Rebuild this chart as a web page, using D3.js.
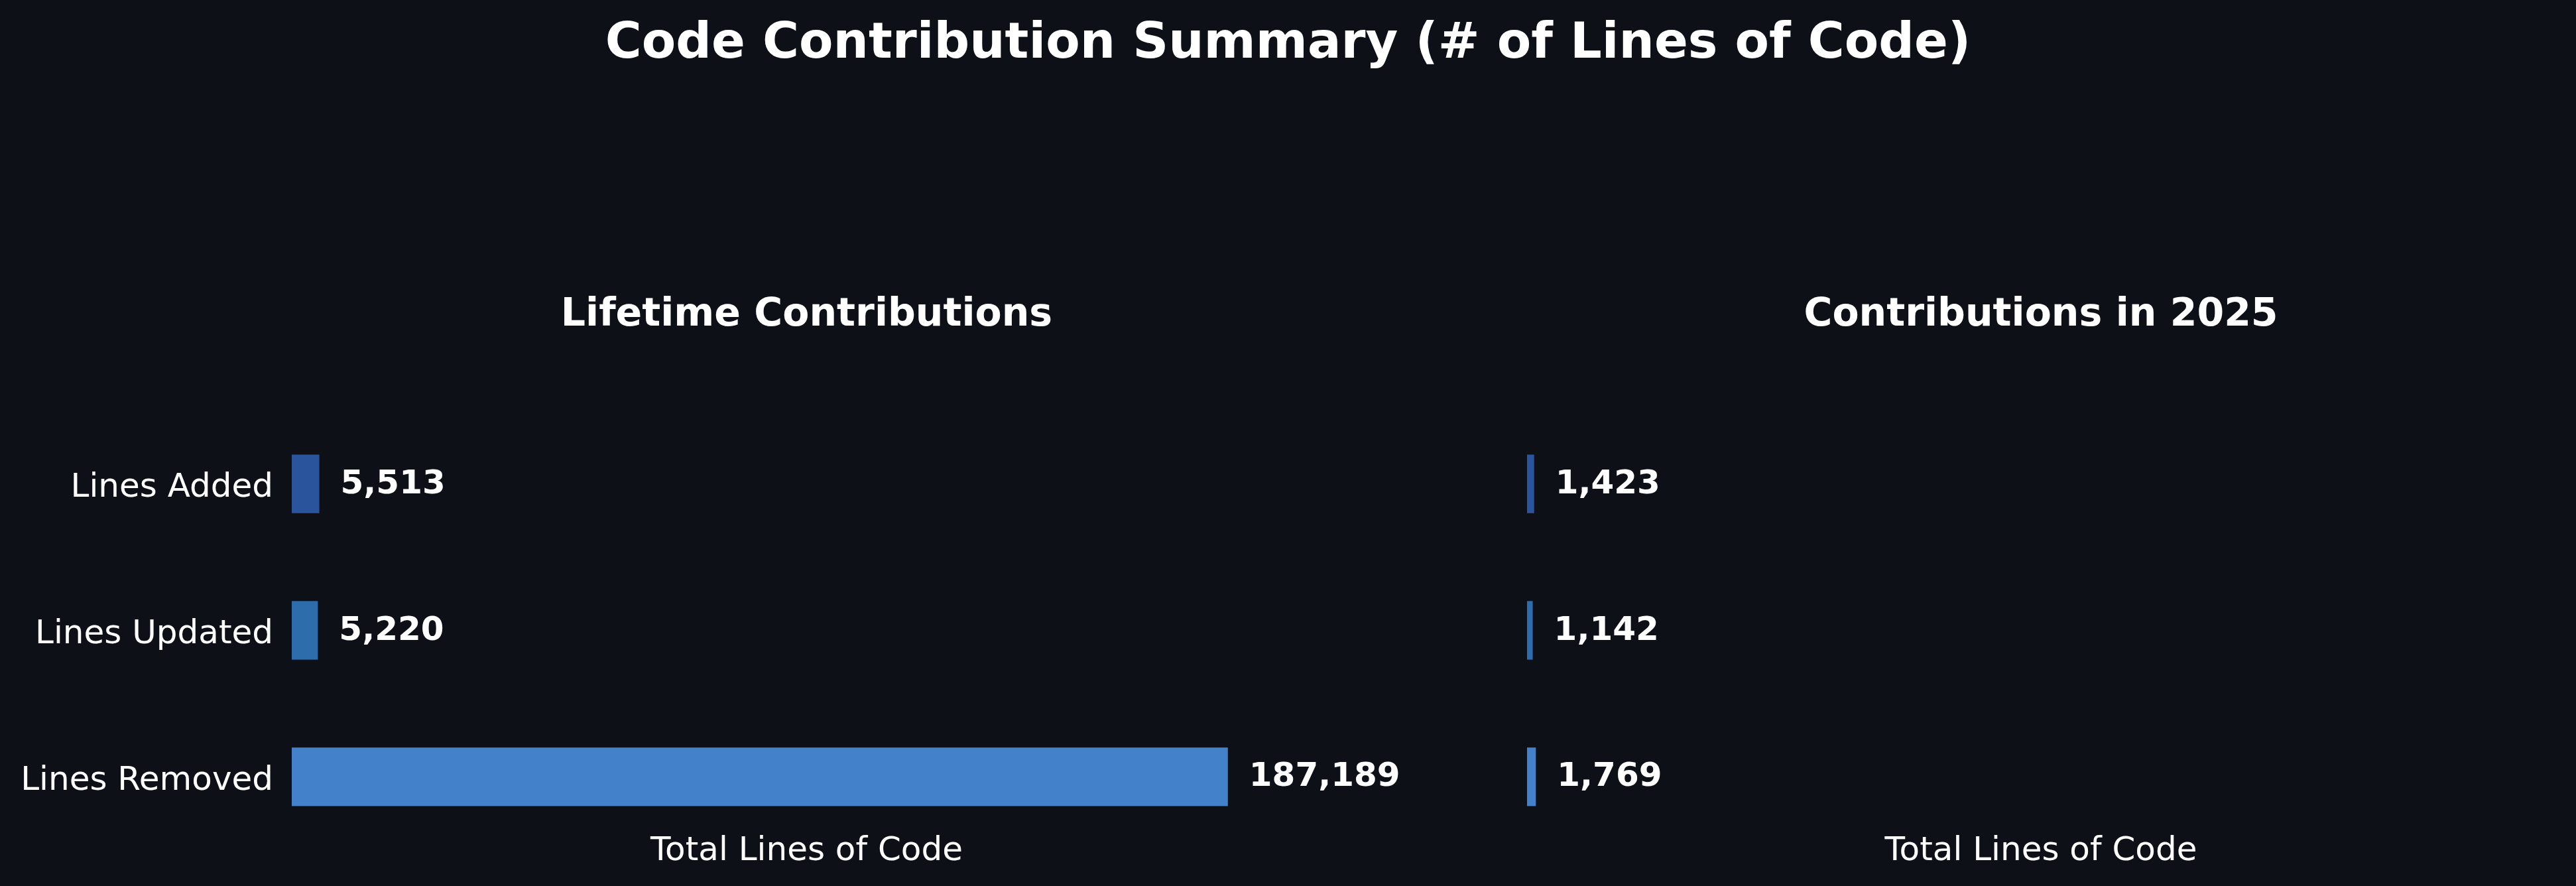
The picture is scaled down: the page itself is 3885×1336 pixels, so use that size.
<!DOCTYPE html>
<html>
<head>
<meta charset="utf-8">
<script src="https://cdn.jsdelivr.net/npm/d3@7"></script>
<style>
  html, body { margin: 0; padding: 0; background: #0d1117; }
  svg { display: block; font-family: "DejaVu Sans", sans-serif; }
</style>
</head>
<body>
<svg id="chart"></svg>
<script>
// Chart data
const categories = ["Lines Added", "Lines Updated", "Lines Removed"];
const lifetimeValues = [5513, 5220, 187189];
const yearValues = [1423, 1142, 1769];
const barColors = ["#2a559c", "#2e6dac", "#4382cb"];
const panelTitles = ["Lifetime Contributions", "Contributions in 2025"];
const chartTitle = "Code Contribution Summary (# of Lines of Code)";
const axisLabel = "Total Lines of Code";

const width = 3885;
const height = 1336;

const svg = d3.select("#chart")
    .attr("width", width)
    .attr("height", height);

svg.append("rect")
    .attr("width", width)
    .attr("height", height)
    .attr("fill", "#0d1117");

// Main title
svg.append("text")
    .attr("x", width / 2)
    .attr("y", 87)
    .attr("text-anchor", "middle")
    .attr("fill", "#ffffff")
    .style("font-size", "75px")
    .style("font-weight", "bold")
    .text(chartTitle);

// Shared scales (x is shared between the two panels)
const xMax = d3.max(lifetimeValues.concat(yearValues)) * 1.1;
const y = d3.scalePoint()
    .domain(categories)
    .range([659, 1242])
    .padding(0.32);
const barHeight = y.step() * 0.4;
const fmt = d3.format(",");

const panels = [
    { title: panelTitles[0], values: lifetimeValues, x0: 440, x1: 1993, ticks: true },
    { title: panelTitles[1], values: yearValues, x0: 2303, x1: 3853, ticks: false }
];

panels.forEach(p => {
    const x = d3.scaleLinear().domain([0, xMax]).range([p.x0, p.x1]);
    const cx = (p.x0 + p.x1) / 2;
    const g = svg.append("g");

    g.append("text")
        .attr("x", cx)
        .attr("y", 491)
        .attr("text-anchor", "middle")
        .attr("fill", "#ffffff")
        .style("font-size", "58.5px")
        .style("font-weight", "bold")
        .text(p.title);

    const rows = categories.map((c, i) => ({ cat: c, value: p.values[i], color: barColors[i] }));

    g.selectAll("rect.bar")
        .data(rows)
        .enter()
        .append("rect")
        .attr("class", "bar")
        .attr("x", x(0))
        .attr("y", d => y(d.cat) - barHeight / 2)
        .attr("width", d => x(d.value) - x(0))
        .attr("height", barHeight)
        .attr("fill", d => d.color);

    // value labels
    g.selectAll("text.val")
        .data(rows)
        .enter()
        .append("text")
        .attr("class", "val")
        .attr("x", d => x(d.value) + 32)
        .attr("y", d => y(d.cat) + 14)
        .attr("fill", "#ffffff")
        .style("font-size", "50px")
        .style("font-weight", "bold")
        .text(d => fmt(d.value));

    // category tick labels, left panel only
    if (p.ticks) {
        const axis = d3.axisLeft(y).tickSize(0).tickPadding(28);
        const ag = g.append("g")
            .attr("transform", `translate(${p.x0},0)`)
            .call(axis);
        ag.select(".domain").remove();
        ag.selectAll("text")
            .attr("fill", "#ffffff")
            .attr("dy", null)
            .attr("y", 19)
            .style("font-size", "50px")
            .style("font-family", "DejaVu Sans");
    }

    g.append("text")
        .attr("x", cx)
        .attr("y", 1297)
        .attr("text-anchor", "middle")
        .attr("fill", "#ffffff")
        .style("font-size", "50px")
        .text(axisLabel);
});
</script>
</body>
</html>
